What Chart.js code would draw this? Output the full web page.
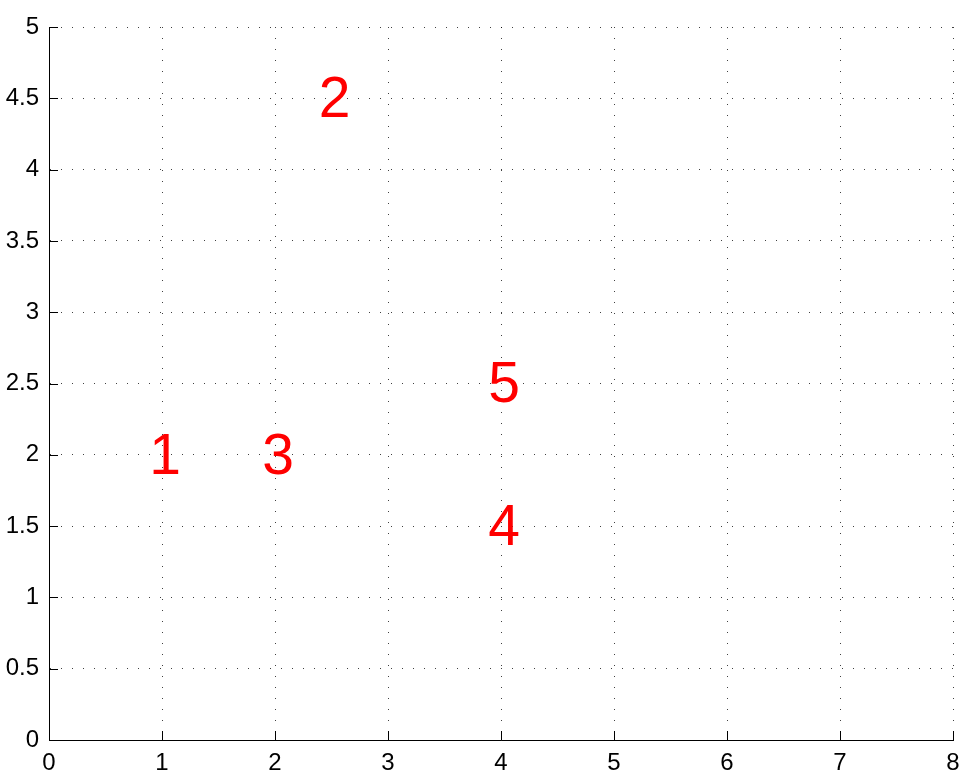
<!DOCTYPE html>
<html><head><meta charset="utf-8">
<script src="https://cdn.jsdelivr.net/npm/chart.js@4"></script>
<style>html,body{margin:0;padding:0;background:#fff;}#wrap{width:970px;height:775px;}</style>
</head><body><div id="wrap"><canvas id="c" width="970" height="775"></canvas></div>
<script>
const pointX = [1, 2.5, 2, 4, 4];
const pointY = [2, 4.5, 2, 1.5, 2.5];
const pointLabels = ['1', '2', '3', '4', '5'];
const xTicks = [0, 1, 2, 3, 4, 5, 6, 7, 8];
const yTicks = [0, 0.5, 1, 1.5, 2, 2.5, 3, 3.5, 4, 4.5, 5];

const FONT = '"Liberation Sans", Arial, Helvetica, sans-serif';

const textPlugin = {
  id: 'textLabels',
  afterDatasetsDraw(chart) {
    const ctx = chart.ctx;
    const meta = chart.getDatasetMeta(0);
    ctx.save();
    ctx.fillStyle = '#ff0000';
    ctx.font = '57px ' + FONT;
    ctx.textAlign = 'center';
    ctx.textBaseline = 'middle';
    meta.data.forEach((el, i) => {
      ctx.fillText(pointLabels[i], el.x + 3, el.y + 3);
    });
    ctx.restore();
  }
};

const tickPlugin = {
  id: 'inTicks',
  afterDraw(chart) {
    const ctx = chart.ctx, a = chart.chartArea;
    const sx = chart.scales.x, sy = chart.scales.y;
    ctx.save();
    ctx.strokeStyle = '#000';
    ctx.lineWidth = 1;
    ctx.beginPath();
    xTicks.forEach(v => {
      const p = Math.round(sx.getPixelForValue(v)) + 0.5;
      ctx.moveTo(p, a.bottom); ctx.lineTo(p, a.bottom - 9);
    });
    yTicks.forEach(v => {
      const p = Math.round(sy.getPixelForValue(v)) + 0.5;
      ctx.moveTo(a.left, p); ctx.lineTo(a.left + 9, p);
    });
    ctx.stroke();
    ctx.restore();
  }
};

new Chart(document.getElementById('c'), {
  type: 'scatter',
  data: {
    datasets: [{
      data: pointX.map((x, i) => ({x: x, y: pointY[i]})),
      pointRadius: 0,
      pointHoverRadius: 0,
      showLine: false
    }]
  },
  options: {
    responsive: false,
    animation: false,
    devicePixelRatio: 1,
    layout: { padding: { top: 27, right: 17, left: 0, bottom: 0 } },
    plugins: { legend: { display: false }, tooltip: { enabled: false } },
    scales: {
      x: {
        type: 'linear', min: 0, max: 8,
        afterBuildTicks: s => { s.ticks = xTicks.map(v => ({value: v})); },
        afterFit: s => { s.height = 35; },
        grid: { color: 'rgba(0,0,0,0.75)', lineWidth: 1, drawTicks: false },
        border: { display: true, color: '#000', width: 1, dash: [1, 10] },
        ticks: { color: '#000', font: { family: FONT, size: 24 }, padding: 9, maxRotation: 0, autoSkip: false,
                 callback: v => String(v) }
      },
      y: {
        type: 'linear', min: 0, max: 5,
        afterBuildTicks: s => { s.ticks = yTicks.map(v => ({value: v})); },
        afterFit: s => { s.width = 49; },
        grid: { color: 'rgba(0,0,0,0.75)', lineWidth: 1, drawTicks: false },
        border: { display: true, color: '#000', width: 1, dash: [1, 10] },
        ticks: { color: '#000', font: { family: FONT, size: 24 }, padding: 10, autoSkip: false,
                 callback: v => String(v) }
      }
    }
  },
  plugins: [textPlugin, tickPlugin]
});
</script>
</body></html>
